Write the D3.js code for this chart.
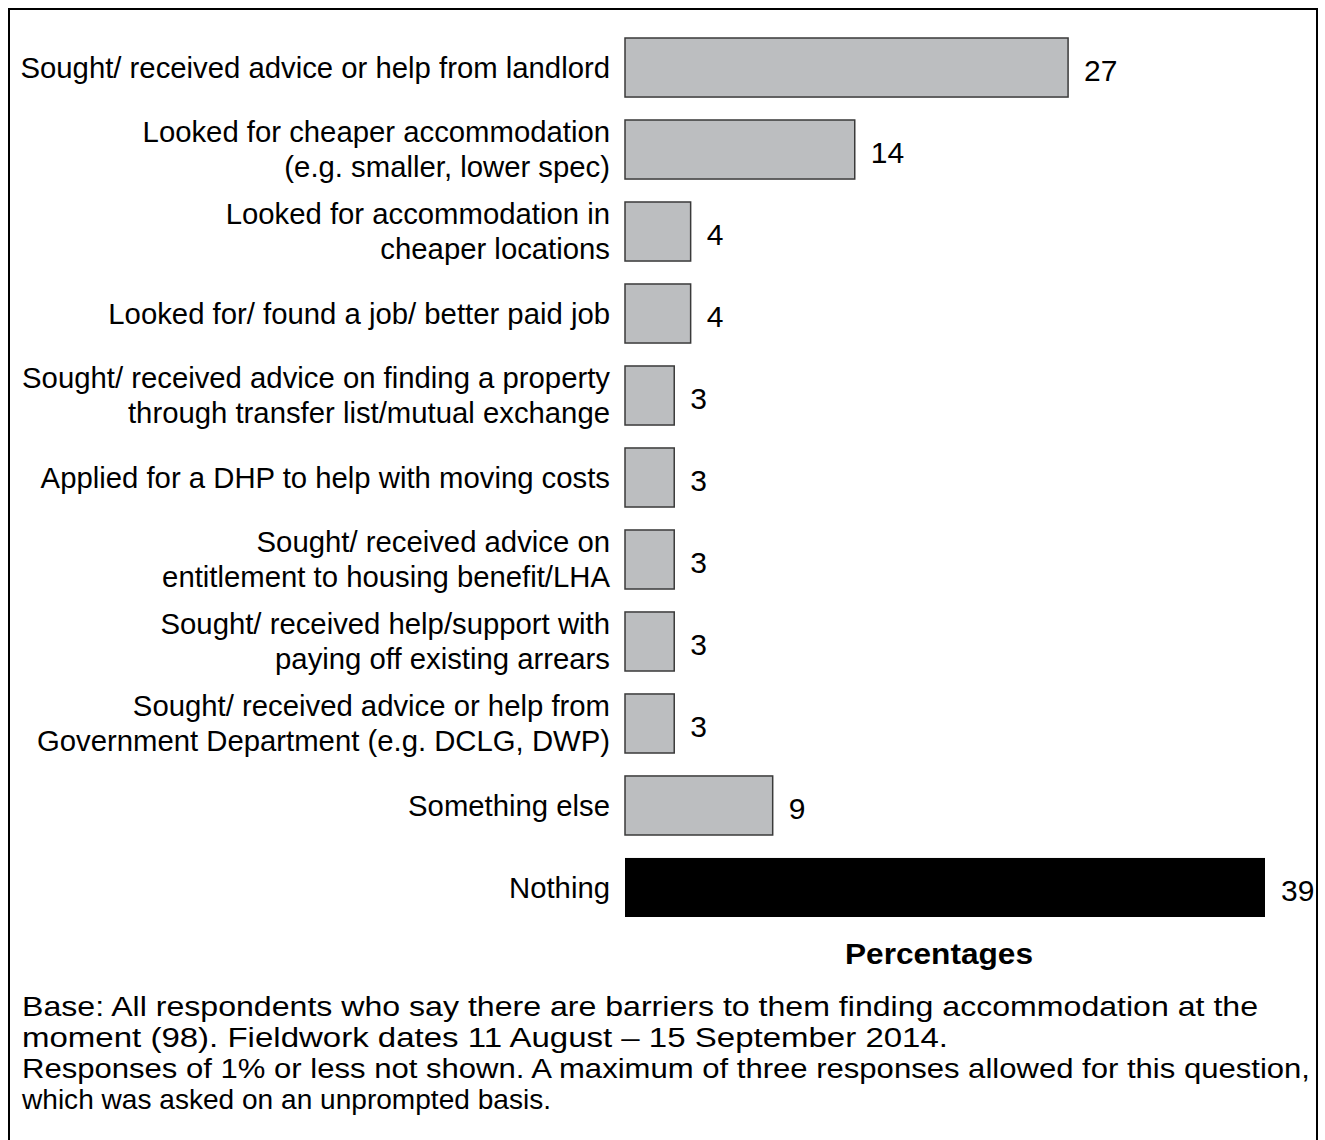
<!DOCTYPE html>
<html>
<head>
<meta charset="utf-8">
<script src="https://cdn.jsdelivr.net/npm/d3@7"></script>
<style>
body { margin: 0; background: #fff; }
text { font-family: "Liberation Sans", Arial, Helvetica, sans-serif; fill: #000; }
</style>
</head>
<body>
<div id="graph"></div>
<script>
var w = 1325, h = 1140;

// data
var categories = [
	"Sought/ received advice or help from landlord",
	"Looked for cheaper accommodation\n(e.g. smaller, lower spec)",
	"Looked for accommodation in\ncheaper locations",
	"Looked for/ found a job/ better paid job",
	"Sought/ received advice on finding a property\nthrough transfer list/mutual exchange",
	"Applied for a DHP to help with moving costs",
	"Sought/ received advice on\nentitlement to housing benefit/LHA",
	"Sought/ received help/support with\npaying off existing arrears",
	"Sought/ received advice or help from\nGovernment Department (e.g. DCLG, DWP)",
	"Something else",
	"Nothing"
];
var values = [27, 14, 4, 4, 3, 3, 3, 3, 3, 9, 39];
var axisTitle = "Percentages";
var notes = [
	"Base: All respondents who say there are barriers to them finding accommodation at the",
	"moment (98). Fieldwork dates 11 August \u2013 15 September 2014.",
	"Responses of 1% or less not shown. A maximum of three responses allowed for this question,",
	"which was asked on an unprompted basis."
];
var noteWidths = [1236, 926, 1288, 529];

var svg = d3.select("#graph")
	.append("svg")
	.attr("width", w)
	.attr("height", h);

// frame
svg.append("rect")
	.attr("x", 9)
	.attr("y", 9)
	.attr("width", 1308)
	.attr("height", 1150)
	.attr("fill", "none")
	.attr("stroke", "#000")
	.attr("stroke-width", 2);

var x = d3.scaleLinear().domain([0, 39]).range([625, 1265]);
var y = d3.scaleBand()
	.domain(categories)
	.range([38, 38 + 82 * 11 - 23])
	.paddingInner(0.28)
	.paddingOuter(0);

var rows = svg.selectAll("g.row")
	.data(categories)
	.enter().append("g")
	.attr("class", "row");

rows.append("rect")
	.attr("x", x(0))
	.attr("y", function(d) { return y(d); })
	.attr("width", function(d, i) { return x(values[i]) - x(0); })
	.attr("height", y.bandwidth())
	.attr("fill", function(d) { return d == "Nothing" ? "#000" : "#bcbec0"; })
	.attr("stroke", function(d) { return d == "Nothing" ? "none" : "#3a3a3a"; })
	.attr("stroke-width", 1.5);

rows.append("text")
	.attr("x", function(d, i) { return x(values[i]) + 16; })
	.attr("y", function(d) { return y(d) + y.bandwidth() / 2 + 3; })
	.attr("dy", "0.35em")
	.attr("font-size", 30)
	.text(function(d, i) { return values[i]; });

rows.each(function(d) {
	var lines = d.split("\n");
	var cy = y(d) + y.bandwidth() / 2;
	var t = d3.select(this).append("text")
		.attr("text-anchor", "end")
		.attr("font-size", 29.3);
	lines.forEach(function(l, k) {
		t.append("tspan")
			.attr("x", 610)
			.attr("y", cy + (k - (lines.length - 1) / 2) * 35)
			.attr("dy", "0.35em")
			.text(l);
	});
});

svg.append("text")
	.attr("x", 939)
	.attr("y", 953)
	.attr("dy", "0.35em")
	.attr("text-anchor", "middle")
	.attr("font-size", 30)
	.attr("font-weight", "bold")
	.attr("textLength", 188)
	.attr("lengthAdjust", "spacingAndGlyphs")
	.text(axisTitle);

svg.selectAll("text.note")
	.data(notes)
	.enter().append("text")
	.attr("class", "note")
	.attr("x", 22)
	.attr("y", function(d, i) { return 1006 + i * 31; })
	.attr("dy", "0.35em")
	.attr("font-size", 27.5)
	.attr("textLength", function(d, i) { return noteWidths[i]; })
	.attr("lengthAdjust", "spacingAndGlyphs")
	.text(function(d) { return d; });
</script>
</body>
</html>
